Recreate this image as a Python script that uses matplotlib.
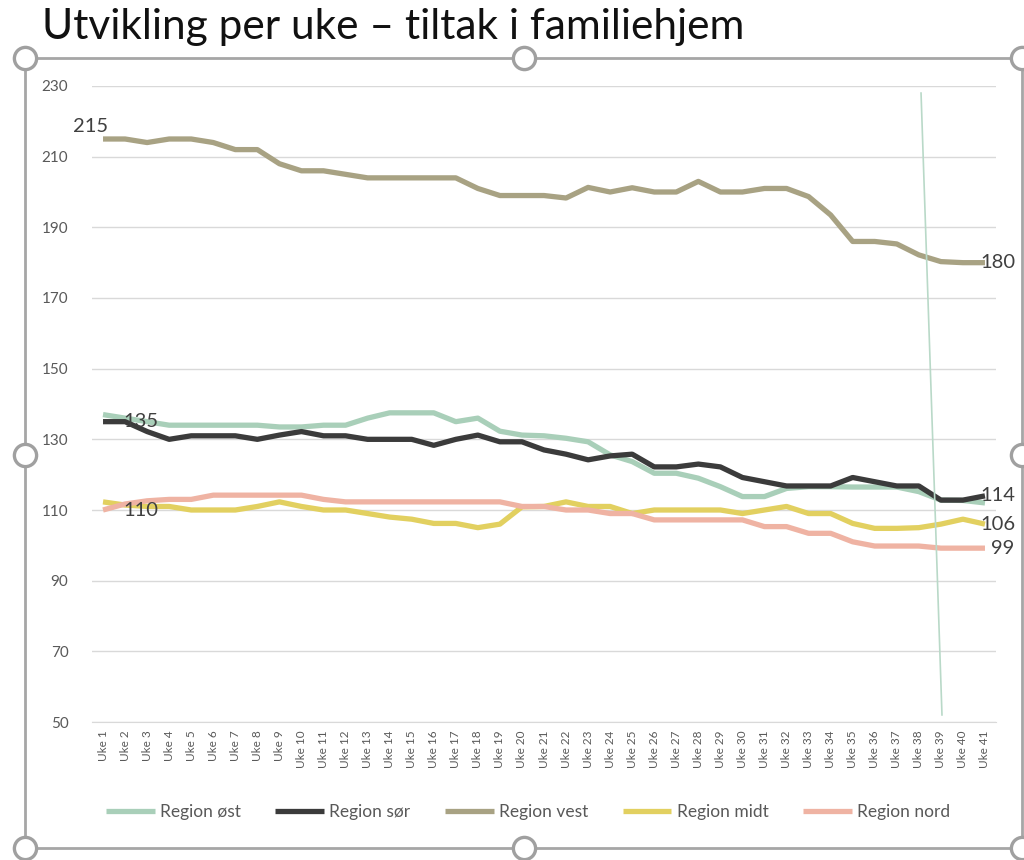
import matplotlib.pyplot as plt
from matplotlib.lines import Line2D
from matplotlib.patches import Rectangle

weeks = [f"Uke {i}" for i in range(1, 42)]

region_ost = [137, 136, 135, 134, 134, 134, 134, 134, 133.5, 133.5,
              134, 134, 136, 137.5, 137.5, 137.5, 135, 136, 132.3, 131.2,
              131, 130.3, 129.3, 125.6, 123.7, 120.4, 120.4, 119, 116.6, 113.8,
              113.8, 116.1, 116.6, 116.6, 116.5, 116.5, 116.5, 115.2, 112.8, 112.7,
              112]
region_sor = [135, 135, 132.2, 130, 131, 131, 131, 130, 131.2, 132.2,
              131, 131, 130, 130, 130, 128.3, 130, 131.2, 129.3, 129.3,
              127, 125.8, 124.2, 125.3, 125.8, 122.2, 122.2, 123, 122.2, 119.2,
              118, 116.8, 116.8, 116.8, 119.2, 118, 116.8, 116.8, 112.8, 112.8,
              114]
region_vest = [215, 215, 214, 215, 215, 214, 212, 212, 208, 206,
               206, 205, 204, 204, 204, 204, 204, 201, 199, 199,
               199, 198.3, 201.3, 200, 201.2, 200, 200, 203, 200, 200,
               201, 201, 198.7, 193.5, 186, 186, 185.3, 182.2, 180.3, 180,
               180]
region_midt = [112.3, 111.4, 111, 111, 110, 110, 110, 111, 112.3, 111,
               110, 110, 109, 108, 107.4, 106.2, 106.2, 105, 106, 110.9,
               111, 112.3, 111, 111, 109, 110, 110, 110, 110, 109,
               110, 111, 109, 109, 106.2, 104.8, 104.8, 105, 106, 107.4,
               106]
region_nord = [110, 111.7, 112.6, 113, 113, 114.2, 114.2, 114.2, 114.2, 114.2,
               113, 112.3, 112.3, 112.3, 112.3, 112.3, 112.3, 112.3, 112.3, 111,
               111, 110, 110, 109, 109, 107.2, 107.2, 107.2, 107.2, 107.2,
               105.3, 105.3, 103.4, 103.4, 101, 99.8, 99.8, 99.8, 99.2, 99.2,
               99.2]

series = [
    ("Region øst", region_ost, "#a9cfb9"),
    ("Region sør", region_sor, "#3b3b3b"),
    ("Region vest", region_vest, "#a8a283"),
    ("Region midt", region_midt, "#e2d060"),
    ("Region nord", region_nord, "#efb3a3"),
]

# data labels: (series values, week index, text, offset in points, ha)
labels = [
    (region_vest, 0, "215", (-9, 9), "center"),
    (region_sor, 0, "135", (15, 0), "left"),
    (region_nord, 0, "110", (15, 0), "left"),
    (region_vest, 40, "180", (-3, 0), "left"),
    (region_sor, 40, "114", (-3, 0), "left"),
    (region_midt, 40, "106", (-3, 0), "left"),
    (region_nord, 40, "99", (4, 0), "left"),
]

plt.rcParams["font.family"] = ["Lato", "DejaVu Sans"]

fig = plt.figure(figsize=(10.24, 8.6), dpi=100)
ax = fig.add_axes([92 / 1024, 1 - 722 / 860, 904 / 1024, 636 / 860])

x = list(range(1, 42))
for name, vals, col in series:
    ax.plot(x, vals, color=col, lw=3.8, label=name, solid_capstyle="butt",
            solid_joinstyle="round")

for vals, i, txt, off, ha in labels:
    ax.annotate(txt, (x[i], vals[i]), xytext=off, textcoords="offset points",
                ha=ha, va="center", fontsize=14.5, color="#404040")

ax.set_xlim(0.5, 41.5)
ax.set_ylim(50, 230)
ax.set_yticks(range(50, 231, 20))
ax.set_xticks(x)
ax.set_xticklabels(weeks, rotation=90, fontsize=8.5, color="#595959")
ax.tick_params(axis="y", length=0, pad=17, labelsize=11, labelcolor="#595959")
ax.tick_params(axis="x", length=0, pad=6)
ax.grid(axis="y", color="#d9d9d9", lw=1)
ax.set_axisbelow(True)
for s in ["top", "right", "left"]:
    ax.spines[s].set_visible(False)
ax.spines["bottom"].set_color("#d9d9d9")

# thin stray line drawn over the chart
ax.plot([38.1, 39.05], [228, 52], color="#b9d9c8", lw=1.2, clip_on=False)

ax.legend(loc="center", bbox_to_anchor=(528 / 1024, (860 - 812) / 860), bbox_transform=fig.transFigure,
          ncol=5, frameon=False, fontsize=12.5, handlelength=2.8, handletextpad=0.3,
          columnspacing=2.0, labelcolor="#595959")

fig.text(42 / 1024, 1 - 8 / 860, "Utvikling per uke – tiltak i familiehjem",
         fontsize=30.5, ha="left", va="top", color="#111111")

# selection frame with handles
fig.add_artist(Rectangle((25 / 1024, 1 - 848 / 860), 997 / 1024, 790 / 860,
                         transform=fig.transFigure, fill=False, ec="#a6a6a6", lw=2))
handles_px = [(25, 58), (524, 58), (1022, 58), (25, 455), (1022, 455),
              (25, 848), (524, 848), (1022, 848)]
for hx, hy in handles_px:
    fig.add_artist(Line2D([hx / 1024], [1 - hy / 860], transform=fig.transFigure,
                          marker="o", markersize=16, mfc="white", mec="#a0a0a0", mew=2.4))

fig.savefig("out.png", dpi=100)
